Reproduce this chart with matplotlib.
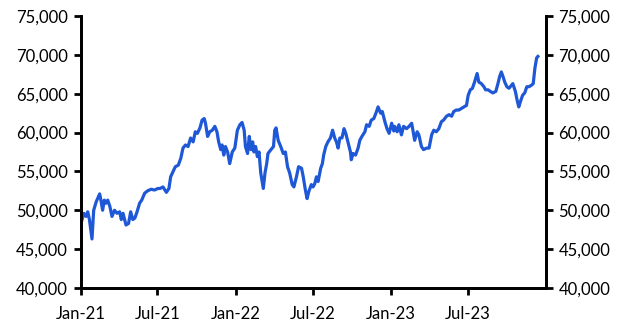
import numpy as np
import pandas as pd
import matplotlib
matplotlib.use("Agg")
import matplotlib.pyplot as plt
import matplotlib.dates as mdates
from matplotlib.ticker import FuncFormatter

plt.rcParams['font.family'] = ['Lato', 'DejaVu Sans']

# values, roughly every week
dates = [
    '2021-01-01', '2021-01-03', '2021-01-09', '2021-01-14', '2021-01-18', '2021-01-22', '2021-01-28',
    '2021-02-01', '2021-02-07', '2021-02-15', '2021-02-18', '2021-02-22', '2021-02-26', '2021-03-02',
    '2021-03-06', '2021-03-11', '2021-03-16', '2021-03-22', '2021-03-28', '2021-04-03', '2021-04-07',
    '2021-04-11', '2021-04-18', '2021-04-24', '2021-04-29', '2021-05-04', '2021-05-09', '2021-05-14',
    '2021-05-20', '2021-05-25', '2021-06-01', '2021-06-08', '2021-06-16', '2021-06-24', '2021-07-02',
    '2021-07-07', '2021-07-14', '2021-07-22', '2021-07-28', '2021-08-01', '2021-08-07', '2021-08-12',
    '2021-08-19', '2021-08-25', '2021-08-30', '2021-09-05', '2021-09-11', '2021-09-17', '2021-09-23',
    '2021-09-28', '2021-10-03', '2021-10-09', '2021-10-14', '2021-10-19', '2021-10-22', '2021-10-27',
    '2021-11-01', '2021-11-07', '2021-11-13', '2021-11-18', '2021-11-22', '2021-11-27', '2021-11-30',
    '2021-12-04', '2021-12-08', '2021-12-13', '2021-12-18', '2021-12-24', '2021-12-30',
    '2022-01-05', '2022-01-11', '2022-01-16', '2022-01-21', '2022-01-24', '2022-01-29', '2022-02-02',
    '2022-02-06', '2022-02-10', '2022-02-13', '2022-02-17', '2022-02-21', '2022-02-25', '2022-03-01',
    '2022-03-07', '2022-03-11', '2022-03-15', '2022-03-18', '2022-03-25', '2022-03-31', '2022-04-03',
    '2022-04-06', '2022-04-11', '2022-04-17', '2022-04-23', '2022-04-28', '2022-05-03', '2022-05-08',
    '2022-05-14', '2022-05-18', '2022-05-24', '2022-05-29', '2022-06-05', '2022-06-09', '2022-06-14',
    '2022-06-18', '2022-06-22', '2022-06-28', '2022-07-02', '2022-07-06', '2022-07-10', '2022-07-14',
    '2022-07-20', '2022-07-24', '2022-07-27', '2022-08-01', '2022-08-06', '2022-08-12', '2022-08-17',
    '2022-08-22', '2022-08-26', '2022-08-30', '2022-09-03', '2022-09-08', '2022-09-13', '2022-09-17',
    '2022-09-22', '2022-09-28', '2022-09-30', '2022-10-04', '2022-10-10', '2022-10-16', '2022-10-20',
    '2022-10-25', '2022-11-01', '2022-11-05', '2022-11-11', '2022-11-16', '2022-11-22', '2022-11-27',
    '2022-12-02', '2022-12-08', '2022-12-12', '2022-12-18', '2022-12-23', '2022-12-28',
    '2023-01-03', '2023-01-08', '2023-01-10', '2023-01-16', '2023-01-20', '2023-01-26', '2023-01-31',
    '2023-02-07', '2023-02-13', '2023-02-19', '2023-02-22', '2023-02-26', '2023-03-04', '2023-03-08',
    '2023-03-14', '2023-03-19', '2023-03-26', '2023-04-01', '2023-04-07', '2023-04-12', '2023-04-18',
    '2023-04-24', '2023-04-30', '2023-05-05', '2023-05-12', '2023-05-18', '2023-05-24', '2023-05-29',
    '2023-06-04', '2023-06-10', '2023-06-16', '2023-06-22', '2023-06-28', '2023-07-02', '2023-07-07',
    '2023-07-12', '2023-07-17', '2023-07-23', '2023-07-27', '2023-08-02', '2023-08-08', '2023-08-12',
    '2023-08-18', '2023-08-23', '2023-08-29', '2023-09-05', '2023-09-10', '2023-09-14', '2023-09-18',
    '2023-09-22', '2023-09-26', '2023-10-01', '2023-10-06', '2023-10-12', '2023-10-15', '2023-10-21',
    '2023-10-25', '2023-10-29', '2023-11-02', '2023-11-07', '2023-11-12', '2023-11-17', '2023-11-22',
    '2023-11-28', '2023-12-02', '2023-12-06', '2023-12-10', '2023-12-13',
]
values = [
    47900, 48500, 49600, 49200, 49800, 48800, 46300,
    50000, 51100, 52100, 51300, 50000, 51300, 50900,
    51300, 50500, 49200, 50000, 49600, 49800, 48800,
    49600, 48100, 48300, 49800, 48800, 49000, 49800,
    50900, 51300, 52200, 52500, 52700, 52600, 52800,
    52800, 53000, 52300, 52800, 54300, 55000, 55600,
    55800, 56700, 58000, 58400, 58200, 59300, 58800,
    60100, 59900, 60600, 61600, 61800, 61200, 59500,
    60100, 60300, 60800, 60100, 58800, 57800, 58400,
    57100, 58200, 57500, 56000, 57500, 58000,
    60300, 61000, 61300, 60300, 58200, 57300, 59500,
    57800, 58800, 57500, 58200, 56900, 57500, 54800,
    52800, 54800, 56000, 57300, 57800, 58200, 60300,
    60600, 59000, 58200, 57300, 57500, 55600, 54800,
    53300, 53000, 54300, 55600, 55400, 54300, 52600,
    51500, 52400, 53300, 53000, 53400, 54300, 53700,
    55400, 56000, 57100, 58200, 58800, 59300, 60300,
    59300, 58800, 58000, 59300, 59300, 60500, 59900,
    58800, 57500, 56500, 57300, 57100, 58000, 59000,
    59500, 60100, 61000, 60800, 61600, 61800, 62500,
    63300, 62500, 62700, 61400, 60500, 59900,
    61200, 60200, 60800, 60100, 61000, 59700, 60800,
    60500, 60800, 61200, 60300, 59000, 60100, 59700,
    58200, 57800, 58000, 58000, 59700, 60300, 60100,
    60500, 61400, 61600, 62100, 62300, 62100, 62700,
    62900, 62900, 63100, 63300, 63500, 64800, 65500,
    65700, 66500, 67600, 66500, 66300, 65900, 65500,
    65500, 65300, 65100, 65300, 66300, 67200, 67800,
    67200, 66500, 65900, 65700, 66100, 66300, 65300,
    64200, 63300, 64000, 64800, 65100, 65900, 65900,
    66100, 66300, 68300, 69600, 69800,
]

tick_dates = ['2021-01-01', '2021-07-01', '2022-01-01', '2022-07-01', '2023-01-01', '2023-07-01']
y_ticks = [40000, 45000, 50000, 55000, 60000, 65000, 70000, 75000]

s = pd.Series(values, index=pd.to_datetime(dates))

fig = plt.figure(figsize=(6.29, 3.34), dpi=100)
ax = fig.add_axes([0.128, 0.138, 0.740, 0.814])
ax.plot(s.index, s.values, color='#1f58d6', lw=2.3)

ax.set_xlim(pd.Timestamp('2021-01-01'), pd.Timestamp('2024-01-01'))
ax.set_ylim(40000, 75000)
ax.set_xticks(pd.to_datetime(tick_dates))
ax.xaxis.set_major_formatter(mdates.DateFormatter('%b-%y'))
ax.set_yticks(y_ticks)
fmt = FuncFormatter(lambda v, p: f'{int(v):,}')
ax.yaxis.set_major_formatter(fmt)

ax2 = ax.twinx()
ax2.set_ylim(40000, 75000)
ax2.set_yticks(y_ticks)
ax2.yaxis.set_major_formatter(fmt)

for a in (ax, ax2):
    a.spines['top'].set_visible(False)
    for sp in ('left', 'right', 'bottom'):
        a.spines[sp].set_linewidth(2.0)
    a.tick_params(axis='both', direction='out', length=5, width=2.0, labelsize=12, pad=4)
ax.tick_params(axis='x', pad=8)

fig.savefig('out.png', dpi=100)
